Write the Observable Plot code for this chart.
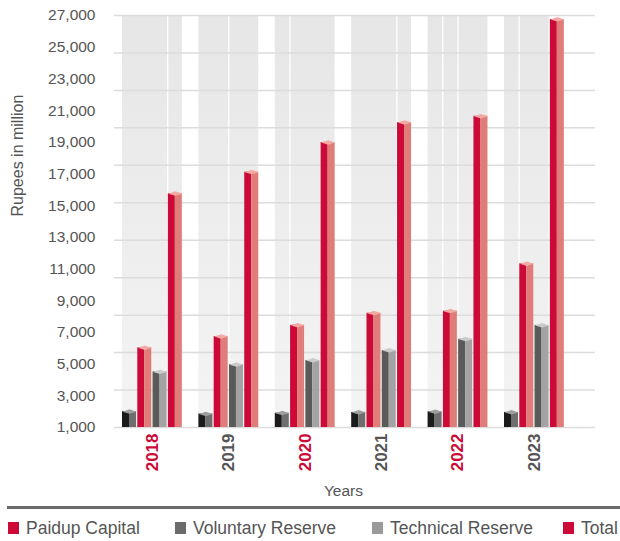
<!DOCTYPE html>
<html><head><meta charset="utf-8">
<script src="https://cdn.jsdelivr.net/npm/d3@7"></script>
<script src="https://cdn.jsdelivr.net/npm/@observablehq/plot@0.6"></script>
<style>
body{margin:0;background:#fff;font-family:"Liberation Sans",Arial,sans-serif;}
#wrap{position:relative;width:620px;height:541px;}
#rule{position:absolute;left:7px;top:506px;width:613px;height:3px;background:#6a6a6a;}
.leg{position:absolute;top:517px;height:22px;display:flex;align-items:center;font-size:17.5px;color:#555;white-space:nowrap;}
.sw{width:11px;height:12px;margin-right:7px;}
</style></head><body><div id="wrap"></div>
<script>
// ---- data ----
const years = ["2018", "2019", "2020", "2021", "2022", "2023"];
const seriesNames = ["Paidup Capital", "Voluntary Reserve", "Technical Reserve", "Total"];
const paidupCapital    = [2000, 1850, 1900, 1950, 1990, 1950];
const voluntaryReserve = [6030, 6740, 7450, 8210, 8340, 11330];
const technicalReserve = [4510, 4960, 5230, 5860, 6570, 7440];
const total            = [15750, 17110, 18980, 20240, 20640, 26750];
const yTicks = [1000, 3000, 5000, 7000, 9000, 11000, 13000, 15000, 17000, 19000, 21000, 23000, 25000, 27000];
const gridValues = [1000, 3364, 5727, 8091, 10455, 12818, 15182, 17545, 19909, 22273, 24636, 27000];
const panelSlots = [4, 4, 4, 4, 4, 3];
const panelDividers = [[3], [2], [1], [3], [1, 2], [1]];
const yTitle = "Rupees in million";
const xTitle = "Years";

// ---- styles ----
const frontC = ["#1b1b1b", "#cc0a37", "#5a5a5a", "#cc0a37"];
const sideC  = ["#6e6e6e", "#e07d78", "#a3a3a3", "#e07d78"];
const topC   = ["#9e9e9e", "#f2aaa3", "#cbcbcb", "#f2aaa3"];
const legendC = ["#cc0a37", "#6b6b6b", "#9a9a9a", "#cc0a37"];
const yearC = ["#cc0a37", "#555555"];

const valuesBySeries = [paidupCapital, voluntaryReserve, technicalReserve, total];
const rows = years.flatMap((yr, i) => valuesBySeries.map((vals, s) => ({year: yr, i, s, value: vals[i]})));

const slot = 0.2;
const barW = slot * 0.916;
const gapW = slot - barW;
const base = yTicks[0];
const topV = yTicks[yTicks.length - 1];
const left = d => d.i + d.s * slot;

const rhombus = {
  draw(ctx) {
    ctx.moveTo(-7, 0);
    ctx.lineTo(0, -2.4);
    ctx.lineTo(7, 0);
    ctx.lineTo(0, 2.1);
    ctx.closePath();
  }
};

const dividers = years.flatMap((yr, i) => panelDividers[i].map(k => i + k * slot - gapW / 2));

const svg = Plot.plot({
  width: 620,
  height: 500,
  marginLeft: 114,
  marginRight: 25,
  marginTop: 15,
  marginBottom: 73,
  style: {fontFamily: "Liberation Sans, Arial, sans-serif", fontSize: "15.5px", color: "#555", background: "#fff"},
  x: {axis: null, domain: [0, years.length], range: [122, 580.4]},
  y: {domain: [base, topV], ticks: yTicks, tickFormat: d3.format(","), tickSize: 0, tickPadding: 19, label: null},
  color: {type: "identity"},
  marks: [
    Plot.rect(years, {
      x1: (d, i) => i,
      x2: (d, i) => i + panelSlots[i] * slot - gapW,
      y1: () => base, y2: () => topV,
      fill: "url(#panelGrad)"
    }),
    Plot.ruleX(dividers, {x: d => d, y1: () => base, y2: () => topV, stroke: "#ffffff", strokeWidth: 1.3}),
    Plot.ruleY(gridValues, {stroke: "#dcdcdc", strokeWidth: 1.5}),
    Plot.rect(rows, {x1: left, x2: d => left(d) + barW / 2, y1: () => base, y2: "value", fill: d => frontC[d.s]}),
    Plot.rect(rows, {x1: d => left(d) + barW / 2, x2: d => left(d) + barW, y1: () => base, y2: "value", fill: d => sideC[d.s]}),
    Plot.dot(rows, {x: d => left(d) + barW / 2, y: "value", symbol: rhombus, r: 3, fill: d => topC[d.s], stroke: "none"}),
    Plot.text(years, {
      x: (d, i) => i + (4 * slot - gapW) / 2, y: () => base,
      text: d => d, rotate: -90, textAnchor: "end", dy: 6,
      fontSize: 17, fontWeight: "bold", fill: (d, i) => yearC[i % 2]
    }),
    Plot.text([xTitle], {x: () => (years.length - 1 + 4 * slot - gapW) / 2, y: () => base, text: d => d, dy: 64, fontSize: 15.5, fill: "#555"}),
    Plot.text([yTitle], {frameAnchor: "left", text: d => d, dx: -97, dy: -5, rotate: -90, fontSize: 16, fill: "#555"})
  ]
});

const defs = document.createElementNS("http://www.w3.org/2000/svg", "defs");
defs.innerHTML = '<linearGradient id="panelGrad" x1="0" y1="0" x2="0" y2="1"><stop offset="0" stop-color="#e6e6e6"/><stop offset="1" stop-color="#f4f4f4"/></linearGradient>';
svg.insertBefore(defs, svg.firstChild);

const wrap = document.getElementById("wrap");
svg.style.position = "absolute";
svg.style.left = "0px";
svg.style.top = "0px";
wrap.appendChild(svg);

const rule = document.createElement("div");
rule.id = "rule";
wrap.appendChild(rule);

const legendLeft = [8, 175, 372, 563];
seriesNames.forEach((name, k) => {
  const item = document.createElement("div");
  item.className = "leg";
  item.style.left = legendLeft[k] + "px";
  const sw = document.createElement("span");
  sw.className = "sw";
  sw.style.background = legendC[k];
  const tx = document.createElement("span");
  tx.textContent = name;
  item.appendChild(sw);
  item.appendChild(tx);
  wrap.appendChild(item);
});
</script>
</body></html>
